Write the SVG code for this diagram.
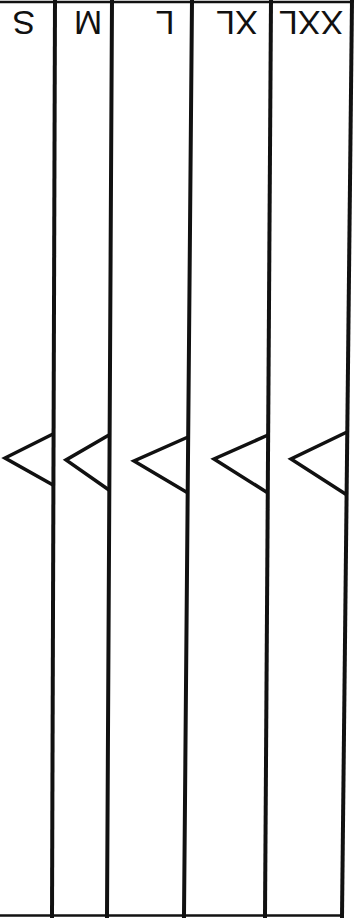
<svg xmlns="http://www.w3.org/2000/svg" width="355" height="921" viewBox="0 0 355 921">
<style>
.ln{stroke:#111;stroke-width:4;fill:none;stroke-linecap:square}
.bd{stroke:#111;stroke-width:2.5;fill:none}
.tri{stroke:#111;stroke-width:3.5;fill:none;stroke-linejoin:miter}
.lb{font-family:"Liberation Sans",Arial,sans-serif;font-size:34px;fill:#111;text-anchor:middle}
</style>
<rect width="355" height="921" fill="#fff"/>
<g id="connectors">
<line class="bd" x1="0" y1="2" x2="353" y2="2"/>
<line class="bd" x1="0" y1="915.5" x2="343" y2="915.5"/>
<line class="ln" x1="55" y1="0" x2="52" y2="916"/>
<line class="ln" x1="112" y1="0" x2="107" y2="916"/>
<line class="ln" x1="192" y1="0" x2="184" y2="916"/>
<line class="ln" x1="271" y1="0" x2="265" y2="916"/>
<line class="ln" x1="352" y1="0" x2="342" y2="916"/>
</g>
<g id="col-S">
<text class="lb" transform="translate(24,11) rotate(180)">S</text>
<polyline class="tri" points="53,434 5,458 53,485"/>
</g>
<g id="col-M">
<text class="lb" transform="translate(88,11) rotate(180)">M</text>
<polyline class="tri" points="109,435 66,460 109,490"/>
</g>
<g id="col-L">
<text class="lb" transform="translate(165,11) rotate(180)">L</text>
<polyline class="tri" points="188,437 134,461 188,493"/>
</g>
<g id="col-XL">
<text class="lb" transform="translate(237,11) rotate(180)">XL</text>
<polyline class="tri" points="268,435 214,459 268,493"/>
</g>
<g id="col-XXL">
<text class="lb" transform="translate(311,11) rotate(180)">XXL</text>
<polyline class="tri" points="347,432 291,459 347,495"/>
</g>
</svg>
